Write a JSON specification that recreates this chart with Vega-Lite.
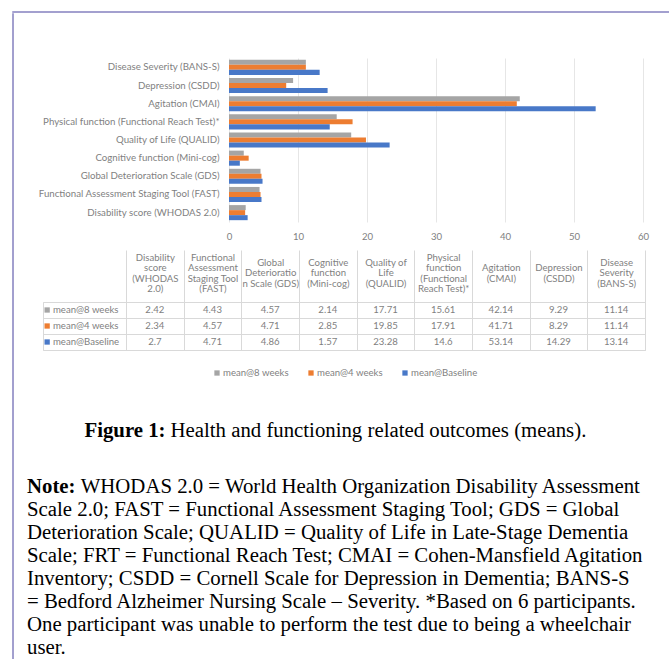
{
  "$schema": "https://vega.github.io/schema/vega-lite/v6.json",
  "background": "white",
  "padding": {"left": 12, "top": 11, "right": 0, "bottom": 0},
  "spacing": 0,
  "config": {"view": {"stroke": null}, "font": "Lato", "axis": {"labelFont": "Lato"}},
  "datasets": {
    "outcomes": [
      {"measure": "Disability score (WHODAS 2.0)", "header": "Disability|score|(WHODAS|2.0)", "series": "mean@8 weeks", "value": 2.42},
      {"measure": "Disability score (WHODAS 2.0)", "header": "Disability|score|(WHODAS|2.0)", "series": "mean@4 weeks", "value": 2.34},
      {"measure": "Disability score (WHODAS 2.0)", "header": "Disability|score|(WHODAS|2.0)", "series": "mean@Baseline", "value": 2.7},
      {"measure": "Functional Assessment Staging Tool (FAST)", "header": "Functional|Assessment|Staging Tool|(FAST)", "series": "mean@8 weeks", "value": 4.43},
      {"measure": "Functional Assessment Staging Tool (FAST)", "header": "Functional|Assessment|Staging Tool|(FAST)", "series": "mean@4 weeks", "value": 4.57},
      {"measure": "Functional Assessment Staging Tool (FAST)", "header": "Functional|Assessment|Staging Tool|(FAST)", "series": "mean@Baseline", "value": 4.71},
      {"measure": "Global Deterioration Scale (GDS)", "header": "Global|Deterioratio|n Scale (GDS)", "series": "mean@8 weeks", "value": 4.57},
      {"measure": "Global Deterioration Scale (GDS)", "header": "Global|Deterioratio|n Scale (GDS)", "series": "mean@4 weeks", "value": 4.71},
      {"measure": "Global Deterioration Scale (GDS)", "header": "Global|Deterioratio|n Scale (GDS)", "series": "mean@Baseline", "value": 4.86},
      {"measure": "Cognitive function (Mini-cog)", "header": "Cognitive|function|(Mini-cog)", "series": "mean@8 weeks", "value": 2.14},
      {"measure": "Cognitive function (Mini-cog)", "header": "Cognitive|function|(Mini-cog)", "series": "mean@4 weeks", "value": 2.85},
      {"measure": "Cognitive function (Mini-cog)", "header": "Cognitive|function|(Mini-cog)", "series": "mean@Baseline", "value": 1.57},
      {"measure": "Quality of Life (QUALID)", "header": "Quality of|Life|(QUALID)", "series": "mean@8 weeks", "value": 17.71},
      {"measure": "Quality of Life (QUALID)", "header": "Quality of|Life|(QUALID)", "series": "mean@4 weeks", "value": 19.85},
      {"measure": "Quality of Life (QUALID)", "header": "Quality of|Life|(QUALID)", "series": "mean@Baseline", "value": 23.28},
      {"measure": "Physical function (Functional Reach Test)*", "header": "Physical|function|(Functional|Reach Test)*", "series": "mean@8 weeks", "value": 15.61},
      {"measure": "Physical function (Functional Reach Test)*", "header": "Physical|function|(Functional|Reach Test)*", "series": "mean@4 weeks", "value": 17.91},
      {"measure": "Physical function (Functional Reach Test)*", "header": "Physical|function|(Functional|Reach Test)*", "series": "mean@Baseline", "value": 14.6},
      {"measure": "Agitation (CMAI)", "header": "Agitation|(CMAI)", "series": "mean@8 weeks", "value": 42.14},
      {"measure": "Agitation (CMAI)", "header": "Agitation|(CMAI)", "series": "mean@4 weeks", "value": 41.71},
      {"measure": "Agitation (CMAI)", "header": "Agitation|(CMAI)", "series": "mean@Baseline", "value": 53.14},
      {"measure": "Depression (CSDD)", "header": "Depression|(CSDD)", "series": "mean@8 weeks", "value": 9.29},
      {"measure": "Depression (CSDD)", "header": "Depression|(CSDD)", "series": "mean@4 weeks", "value": 8.29},
      {"measure": "Depression (CSDD)", "header": "Depression|(CSDD)", "series": "mean@Baseline", "value": 14.29},
      {"measure": "Disease Severity (BANS-S)", "header": "Disease|Severity|(BANS-S)", "series": "mean@8 weeks", "value": 11.14},
      {"measure": "Disease Severity (BANS-S)", "header": "Disease|Severity|(BANS-S)", "series": "mean@4 weeks", "value": 11.14},
      {"measure": "Disease Severity (BANS-S)", "header": "Disease|Severity|(BANS-S)", "series": "mean@Baseline", "value": 13.14}
    ],
    "series": [
      {"series": "mean@8 weeks"},
      {"series": "mean@4 weeks"},
      {"series": "mean@Baseline"}
    ],
    "caption": [
      {"lead": "Figure 1:", "text": "Health and functioning related outcomes (means)."}
    ],
    "notes": [
      {"line": 1, "lead": "Note:", "text": "WHODAS 2.0 = World Health Organization Disability Assessment"},
      {"line": 2, "text": "Scale 2.0; FAST = Functional Assessment Staging Tool; GDS = Global"},
      {"line": 3, "text": "Deterioration Scale; QUALID = Quality of Life in Late-Stage Dementia"},
      {"line": 4, "text": "Scale; FRT = Functional Reach Test; CMAI = Cohen-Mansfield Agitation"},
      {"line": 5, "text": "Inventory; CSDD = Cornell Scale for Depression in Dementia; BANS-S"},
      {"line": 6, "text": "= Bedford Alzheimer Nursing Scale – Severity. *Based on 6 participants."},
      {"line": 7, "text": "One participant was unable to perform the test due to being a wheelchair"},
      {"line": 8, "text": "user."}
    ]
  },
  "vconcat": [
    {"width": 657, "height": 0.01, "data": {"values": []}, "mark": "point", "view": {"stroke": "#8580bf", "strokeWidth": 1.5}},
    {
      "spacing": 13,
      "hconcat": [
        {"width": 0.01, "height": 648, "data": {"values": []}, "mark": "point", "view": {"stroke": "#8580bf", "strokeWidth": 1.5}},
        {
          "spacing": 8,
          "vconcat": [
            {"width": 1, "height": 36, "data": {"values": []}, "mark": "point"},
            {
              "spacing": 0,
              "hconcat": [
                {"width": 10, "height": 1, "data": {"values": []}, "mark": "point"},
                {
                  "width": 414,
                  "height": 164,
                  "data": {"name": "outcomes"},
                  "mark": {"type": "bar"},
                  "encoding": {
                    "y": {
                      "field": "measure", "type": "nominal",
                      "sort": ["Disease Severity (BANS-S)", "Depression (CSDD)", "Agitation (CMAI)", "Physical function (Functional Reach Test)*", "Quality of Life (QUALID)", "Cognitive function (Mini-cog)", "Global Deterioration Scale (GDS)", "Functional Assessment Staging Tool (FAST)", "Disability score (WHODAS 2.0)"],
                      "scale": {"paddingInner": 0.17, "paddingOuter": 0.1},
                      "axis": {"title": null, "domain": false, "ticks": false, "labelColor": "#7f7f7f", "labelFontSize": 9.7, "labelPadding": 10, "labelLimit": 300}
                    },
                    "yOffset": {"field": "series", "type": "nominal", "sort": ["mean@8 weeks", "mean@4 weeks", "mean@Baseline"]},
                    "x": {
                      "field": "value", "type": "quantitative",
                      "scale": {"domain": [0, 60]},
                      "axis": {"title": null, "values": [0, 10, 20, 30, 40, 50, 60], "domain": false, "ticks": false, "gridColor": "#e6e6e6", "labelColor": "#7f7f7f", "labelFontSize": 9.6, "labelPadding": 9, "labelFlush": false}
                    },
                    "color": {
                      "field": "series", "type": "nominal",
                      "scale": {"domain": ["mean@8 weeks", "mean@4 weeks", "mean@Baseline"], "range": ["#A5A5A5", "#ED7D31", "#4878C8"]},
                      "legend": null
                    }
                  }
                }
              ]
            },
            {
              "spacing": 0,
              "bounds": "flush",
              "hconcat": [
                {"width": 16, "height": 48, "data": {"values": []}, "mark": "point"},
                {
                  "width": 83,
                  "height": 48,
                  "data": {"name": "series"},
                  "view": {"stroke": "#d9d9d9"},
                  "encoding": {
                    "y": {
                      "field": "series", "type": "nominal",
                      "sort": ["mean@8 weeks", "mean@4 weeks", "mean@Baseline"],
                      "scale": {"paddingInner": 0, "paddingOuter": 0},
                      "axis": {"grid": true, "gridColor": "#d9d9d9", "tickBand": "extent", "labels": false, "ticks": false, "domain": false, "title": null}
                    }
                  },
                  "layer": [
                    {
                      "mark": {"type": "square", "size": 28, "opacity": 1},
                      "encoding": {
                        "x": {"datum": 0.05, "type": "quantitative", "scale": {"domain": [0, 1]}, "axis": null},
                        "color": {"field": "series", "type": "nominal", "legend": null}
                      }
                    },
                    {
                      "mark": {"type": "text", "align": "left", "font": "Lato", "fontSize": 9.6, "color": "#7f7f7f"},
                      "encoding": {
                        "x": {"datum": 0.12, "type": "quantitative"},
                        "text": {"field": "series", "type": "nominal"}
                      }
                    }
                  ]
                },
                {
                  "width": 519,
                  "height": 48,
                  "data": {"name": "outcomes"},
                  "view": {"stroke": "#d9d9d9"},
                  "mark": {"type": "text", "font": "Lato", "fontSize": 9.6, "color": "#7f7f7f"},
                  "encoding": {
                    "x": {
                      "field": "header", "type": "nominal", "sort": null,
                      "scale": {"paddingInner": 0, "paddingOuter": 0},
                      "axis": {
                        "orient": "top", "title": null, "tickBand": "extent",
                        "tickSize": 52, "tickColor": "#d9d9d9", "domain": false,
                        "grid": true, "gridColor": "#d9d9d9",
                        "labelExpr": "split(datum.label, '|')",
                        "labelAngle": 0, "labelBaseline": "top", "labelAlign": "center",
                        "labelPadding": {
                          "condition": [
                            {"test": "length(split(datum.value, '|')) == 4", "value": -2},
                            {"test": "length(split(datum.value, '|')) == 3", "value": -7.25}
                          ],
                          "value": -12.5
                        },
                        "labelLineHeight": 10.5, "labelFontSize": 9.6, "labelColor": "#7f7f7f",
                        "labelOverlap": false, "labelLimit": 120
                      }
                    },
                    "y": {
                      "field": "series", "type": "nominal",
                      "sort": ["mean@8 weeks", "mean@4 weeks", "mean@Baseline"],
                      "scale": {"paddingInner": 0, "paddingOuter": 0},
                      "axis": {"grid": true, "gridColor": "#d9d9d9", "tickBand": "extent", "labels": false, "ticks": false, "domain": false, "title": null}
                    },
                    "text": {"field": "value", "type": "quantitative"}
                  }
                }
              ]
            },
            {
              "spacing": 0,
              "hconcat": [
                {"width": 187, "height": 1, "data": {"values": []}, "mark": "point"},
                {
                  "width": 188,
                  "height": 28,
                  "data": {"name": "series"},
                  "encoding": {
                    "x": {"field": "series", "type": "nominal", "sort": ["mean@8 weeks", "mean@4 weeks", "mean@Baseline"], "scale": {"type": "point", "padding": 0}, "axis": null}
                  },
                  "layer": [
                    {
                      "mark": {"type": "square", "size": 28, "opacity": 1},
                      "encoding": {"color": {"field": "series", "type": "nominal", "legend": null}}
                    },
                    {
                      "mark": {"type": "text", "align": "left", "dx": 6, "font": "Lato", "fontSize": 9.6, "color": "#7f7f7f"},
                      "encoding": {"text": {"field": "series", "type": "nominal"}}
                    }
                  ]
                }
              ]
            },
            {
              "width": 634,
              "height": 72,
              "data": {"name": "caption"},
              "layer": [
                {
                  "mark": {"type": "text", "align": "right", "font": "Liberation Serif", "fontSize": 20.8, "fontWeight": "bold", "color": "#000000"},
                  "encoding": {
                    "x": {"datum": 0.2185, "type": "quantitative", "scale": {"domain": [0, 1]}, "axis": null},
                    "text": {"field": "lead", "type": "nominal"}
                  }
                },
                {
                  "mark": {"type": "text", "align": "left", "dx": 5, "font": "Liberation Serif", "fontSize": 20.8, "color": "#000000"},
                  "encoding": {
                    "x": {"datum": 0.2185, "type": "quantitative"},
                    "text": {"field": "text", "type": "nominal"}
                  }
                }
              ]
            },
            {
              "width": 634,
              "height": 184,
              "data": {"name": "notes"},
              "encoding": {
                "y": {"field": "line", "type": "ordinal", "scale": {"paddingInner": 0, "paddingOuter": 0}, "axis": null}
              },
              "layer": [
                {
                  "transform": [{"filter": "datum.line == 1"}],
                  "mark": {"type": "text", "align": "left", "font": "Liberation Serif", "fontSize": 20.8, "fontWeight": "bold", "color": "#000000"},
                  "encoding": {
                    "x": {"datum": 0, "type": "quantitative", "scale": {"domain": [0, 1]}, "axis": null},
                    "text": {"field": "lead", "type": "nominal"}
                  }
                },
                {
                  "transform": [{"filter": "datum.line == 1"}],
                  "mark": {"type": "text", "align": "left", "font": "Liberation Serif", "fontSize": 20.8, "color": "#000000"},
                  "encoding": {
                    "x": {"datum": 0.0847, "type": "quantitative"},
                    "text": {"field": "text", "type": "nominal"}
                  }
                },
                {
                  "transform": [{"filter": "datum.line > 1"}],
                  "mark": {"type": "text", "align": "left", "font": "Liberation Serif", "fontSize": 20.8, "color": "#000000"},
                  "encoding": {
                    "x": {"datum": 0, "type": "quantitative"},
                    "text": {"field": "text", "type": "nominal"}
                  }
                }
              ]
            }
          ]
        }
      ]
    }
  ]
}
